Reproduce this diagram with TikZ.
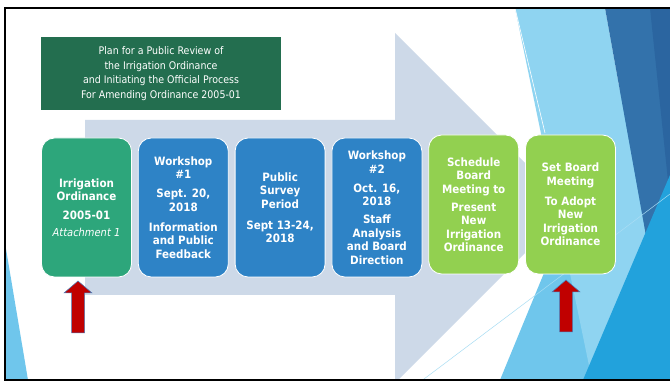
\documentclass[tikz,border=0pt]{standalone}
\usepackage{fontspec}
\setmainfont{DejaVu Sans}[FakeStretch=0.9]
\usetikzlibrary{positioning}

\definecolor{titlegreen}{HTML}{236E4F}
\definecolor{stagegreen}{HTML}{2DA67B}
\definecolor{stageblue}{HTML}{2E83C6}
\definecolor{stagelime}{HTML}{92D050}
\definecolor{arrowgray}{HTML}{CDD9E8}
\definecolor{markred}{HTML}{C00000}
\definecolor{markedge}{HTML}{4A7EBB}
\definecolor{facetlight}{HTML}{8FD4F1}
\definecolor{facetsky}{HTML}{6FC6EC}
\definecolor{facetdark}{HTML}{3372AB}
\definecolor{facetdeep}{HTML}{2B65A0}
\definecolor{facetbright}{HTML}{22A2DC}
\definecolor{facetmid}{HTML}{4DAAE0}

\tikzset{
  stage/.style={draw=white, line width=0.8pt, rounded corners=13pt, minimum width=90pt, minimum height=139pt,
    inner sep=0pt, text=white, align=center, font=\bfseries\fontsize{11.5}{13.5}\selectfont},
  heading/.style={fill=titlegreen, minimum width=240pt, minimum height=73pt, inner sep=0pt,
    text=white, align=center, font=\fontsize{10.5}{14.5}\selectfont},
  upmark/.style={fill=markred, draw=markedge, line width=0.5pt}
}

\begin{document}
\begin{tikzpicture}[x=1pt,y=-1pt]
\useasboundingbox (0,0) rectangle (670,382);
\fill[white] (0,0) rectangle (670,382);

\begin{scope}
\clip (5,8) rectangle (670,380);
% Facets on the right
\fill[facetsky] (500,380) -- (653,8) -- (670,8) -- (670,380) -- cycle;
\fill[facetlight] (515,8) -- (605,8) -- (650,258) -- (592,380) -- cycle;
\fill[facetmid] (650,258) -- (670,120) -- (670,300) -- cycle;
\fill[facetdark] (605,8) -- (670,8) -- (670,235) -- (650,258) -- cycle;
\fill[facetdeep] (650,8) -- (670,8) -- (670,200) -- cycle;
\fill[facetbright] (583,380) -- (670,175) -- (670,380) -- cycle;
\draw[white, line width=0.6pt] (515,8) -- (545,133);
\draw[facetsky!60, line width=0.5pt] (420,382) -- (670,194);
% sliver at the left edge
\fill[facetsky] (5,243) -- (28,380) -- (5,380) -- cycle;

% Big process arrow
\fill[arrowgray] (85,120) -- (395,120) -- (395,33) -- (570,208) -- (395,383) -- (395,295) -- (85,295) -- cycle;
\end{scope}

% Heading
\node[heading] (title) at (161,73.5) {Plan for a Public Review of\\the Irrigation Ordinance\\and Initiating the Official Process\\For Amending Ordinance 2005-01};

% Stages
\node[stage, fill=stagegreen] (ordinance) at (86.5,207.5) {Irrigation\\Ordinance\\[5.5pt]2005-01\\[3.5pt]{\mdseries\itshape\fontsize{11}{13.5}\selectfont Attachment 1}};
\node[stage, fill=stageblue, right=6pt of ordinance] (workshopA) {Workshop\\\#1\\[5.5pt]Sept. 20,\\2018\\[6.5pt]Information\\and Public\\Feedback};
\node[stage, fill=stageblue, right=6pt of workshopA] (survey) {Public\\Survey\\Period\\[7.5pt]Sept 13-24,\\2018};
\node[stage, fill=stageblue, right=6pt of survey] (workshopB) {Workshop\\\#2\\[5.5pt]Oct. 16,\\2018\\[4.5pt]Staff\\Analysis\\and Board\\Direction};
\node[stage, fill=stagelime, right=6pt of workshopB, yshift=3pt] (present) {Schedule\\Board\\Meeting to\\[4.5pt]Present\\New\\Irrigation\\Ordinance};
\node[stage, fill=stagelime, right=6pt of present] (adopt) {Set Board\\Meeting\\[6.5pt]To Adopt\\New\\Irrigation\\Ordinance};

% Red markers
\coordinate (tipL) at (78,281);
\coordinate (tipR) at (566,280);
\draw[upmark] (tipL) -- ++(14,12) -- ++(-7.5,0) -- ++(0,40) -- ++(-13,0) -- ++(0,-40) -- ++(-7.5,0) -- cycle;
\draw[upmark] (tipR) -- ++(14,12) -- ++(-7.5,0) -- ++(0,40) -- ++(-13,0) -- ++(0,-40) -- ++(-7.5,0) -- cycle;

% Frame
\draw[line width=2pt] (5,8) rectangle (680,380);
\end{tikzpicture}
\end{document}
